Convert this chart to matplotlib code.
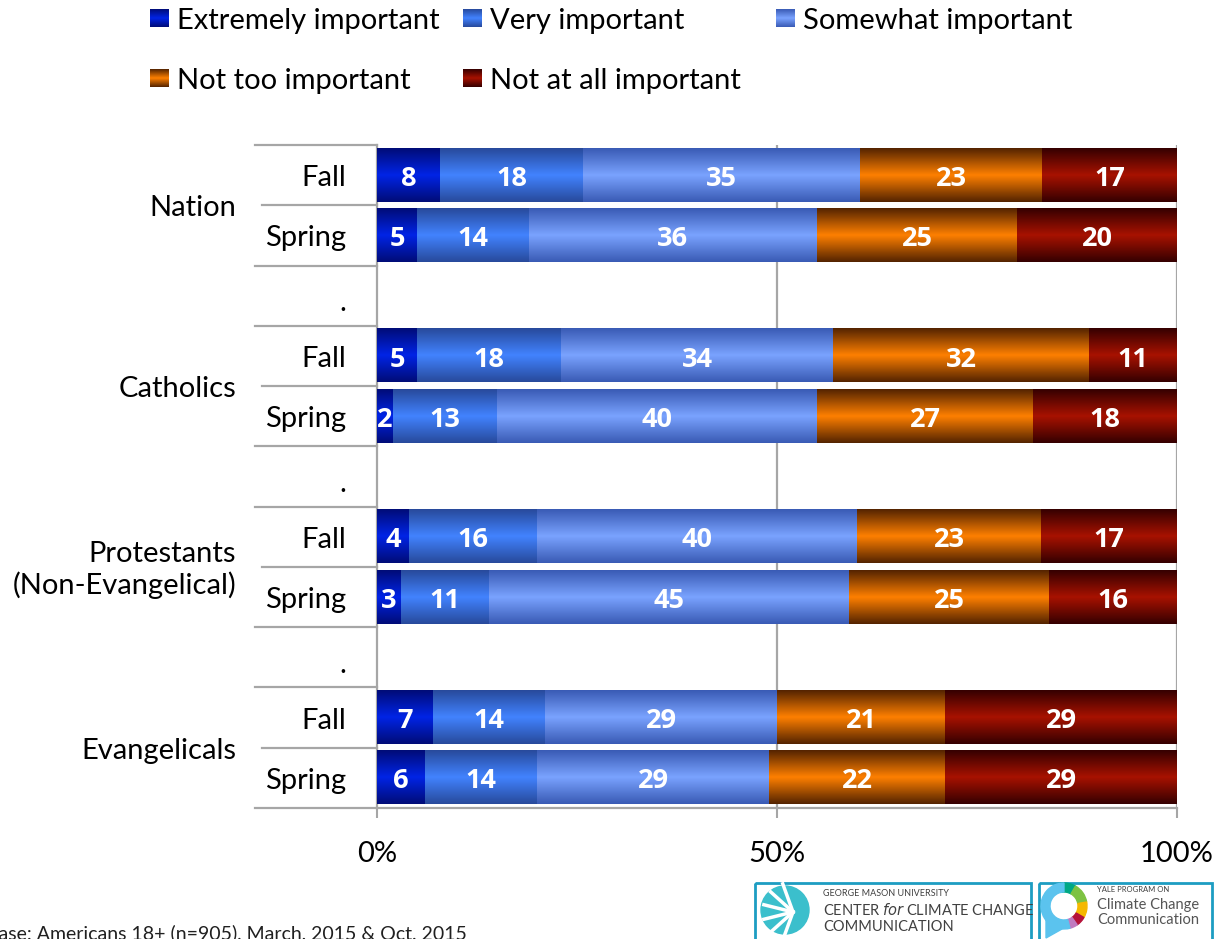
import numpy as np
import matplotlib
matplotlib.use("Agg")
import matplotlib.pyplot as plt
from matplotlib.colors import LinearSegmentedColormap
from matplotlib.patches import Rectangle, Circle, Wedge, Polygon

plt.rcParams['font.family'] = ['Lato', 'DejaVu Sans']

# data
groups = ['Nation', 'Catholics', 'Protestants\n(Non-Evangelical)', 'Evangelicals']
waves = ['Fall', 'Spring']
categories = ['Extremely important', 'Very important', 'Somewhat important',
              'Not too important', 'Not at all important']
extremely = [8, 5, 5, 2, 4, 3, 7, 6]
very = [18, 14, 18, 13, 16, 11, 14, 14]
somewhat = [35, 36, 34, 40, 40, 45, 29, 29]
not_too = [23, 25, 32, 27, 23, 25, 21, 22]
not_at_all = [17, 20, 11, 18, 17, 16, 29, 29]
footnote = 'Base: Americans 18+ (n=905), March, 2015 & Oct. 2015'

# (edge colour, middle colour) for the gradient fill
grad_colors = [('#000c78', '#0024e6'),
               ('#284a9c', '#4283ff'),
               ('#3a5bb5', '#7aa3ff'),
               ('#552400', '#ff8000'),
               ('#360000', '#a81200')]
cmaps = [LinearSegmentedColormap.from_list('g%d' % i, [e, m, e]) for i, (e, m) in enumerate(grad_colors)]
grad = np.linspace(0, 1, 64).reshape(-1, 1)

FS = 21
W, H = 1222, 939
fig = plt.figure(figsize=(W / 100, H / 100), dpi=100)
ax = fig.add_axes([377 / W, 1 - 808 / H, 800 / W, 663 / H])

series = np.array([extremely, very, somewhat, not_too, not_at_all], dtype=float)
shares = series / series.sum(axis=0) * 100

# row layout: two bars per group, a "." spacer row between groups
rows = []
for g in range(len(groups)):
    for w in range(len(waves)):
        rows.append(('bar', g, w))
    if g < len(groups) - 1:
        rows.append(('gap', g, None))
n_rows = len(rows)
bar_h = 0.88

bar_idx = 0
for r, (kind, g, w) in enumerate(rows):
    yc = r + 0.5
    if kind == 'bar':
        left = 0.0
        for c in range(len(categories)):
            width = shares[c, bar_idx]
            ax.imshow(grad, cmap=cmaps[c], aspect='auto', interpolation='bilinear',
                      extent=(left, left + width, yc + bar_h / 2, yc - bar_h / 2), zorder=3)
            ax.text(left + width / 2, yc + 0.06, '%d' % series[c, bar_idx], ha='center', va='center',
                    color='white', fontsize=19.5, fontweight='bold', family='Open Sans', zorder=4)
            left += width
        ax.text(-3.9, yc + 0.05, waves[w], ha='right', va='center', fontsize=FS, clip_on=False)
        bar_idx += 1
    else:
        ax.text(-3.9, yc + 0.12, '.', ha='right', va='center', fontsize=FS, clip_on=False)

# group labels and separator lines on the category axis
r = 0
for g, name in enumerate(groups):
    ax.text(-17.6, r + 1.05, name, ha='right', va='center', fontsize=FS,
            linespacing=1.2, clip_on=False)
    r += 3
for b in range(n_rows + 1):
    start = -14.4 if b in (1, 4, 7, 10) else -15.3
    ax.plot([start, 0], [b, b], color='#a6a6a6', lw=1.6, clip_on=False, zorder=1)

ax.set_xlim(0, 100)
ax.set_ylim(n_rows, 0)
ax.set_yticks([])
ax.set_xticks([0, 50, 100])
ax.set_xticklabels(['0%', '50%', '100%'], fontsize=FS)
ax.tick_params(axis='x', length=7, width=1.5, color='#a6a6a6', pad=17)
for x in (50, 100):
    ax.axvline(x, color='#a6a6a6', lw=1.6, zorder=1)
for s in ('top', 'right'):
    ax.spines[s].set_visible(False)
for s in ('left', 'bottom'):
    ax.spines[s].set_color('#a6a6a6')
    ax.spines[s].set_linewidth(1.6)

# legend drawn by hand in two rows
leg_pos = [(150, 9), (463, 9), (776, 9), (150, 69), (463, 69)]
for c, (px, py) in enumerate(leg_pos):
    hax = fig.add_axes([px / W, 1 - (py + 18) / H, 19 / W, 18 / H])
    hax.imshow(grad, cmap=cmaps[c], aspect='auto')
    hax.axis('off')
    fig.text((px + 27) / W, 1 - (py + 12) / H, categories[c], ha='left', va='center', fontsize=FS)

# footnote (cut at the left edge like the original)
fig.text(-14 / W, 1 - 933 / H, footnote, ha='left', va='center', fontsize=14, color='#202020')

# logos
lax = fig.add_axes([0, 0, 1, 1], zorder=5)
lax.set_xlim(0, W)
lax.set_ylim(H, 0)
lax.axis('off')
teal = '#1d9dc2'
lax.add_patch(Rectangle((755, 883), 276, 70, fill=False, ec=teal, lw=2))
lax.add_patch(Rectangle((1039, 883), 173, 70, fill=False, ec=teal, lw=2))
lax.add_patch(Circle((785, 910), 24, color='#3bbfcc'))
for a in np.linspace(110, 250, 6):
    lax.plot([793, 793 + 30 * np.cos(np.radians(a))], [912, 912 - 30 * np.sin(np.radians(a))],
             color='white', lw=2.5)
lax.text(823, 893, 'GEORGE MASON UNIVERSITY', fontsize=6.5, color='#404040', va='center')
lax.text(823, 910, 'CENTER $\\it{for}$ CLIMATE CHANGE', fontsize=10.5, color='#404040', va='center')
lax.text(823, 927, 'COMMUNICATION', fontsize=10.5, color='#404040', va='center')
# angles measured clockwise from east because the overlay y axis points down
ring = [('#00a884', 60, 100), ('#7dc242', 10, 60), ('#f5b800', -30, 10),
        ('#b5123a', -55, -30), ('#c07ac0', -75, -55), ('#5bc3ee', -270, -75)]
for col, a0, a1 in ring:
    lax.add_patch(Wedge((1064, 906), 23, -a1, -a0, width=9, color=col))
lax.add_patch(Polygon([(1046, 918), (1062, 929), (1046, 938)], closed=True, color='#5bc3ee'))
lax.text(1097, 890, 'YALE PROGRAM ON', fontsize=5.5, color='#404040', va='center')
lax.text(1097, 905, 'Climate Change', fontsize=10.5, color='#555555', va='center')
lax.text(1097, 920, 'Communication', fontsize=10.5, color='#555555', va='center')

fig.savefig('out.png', dpi=100)
